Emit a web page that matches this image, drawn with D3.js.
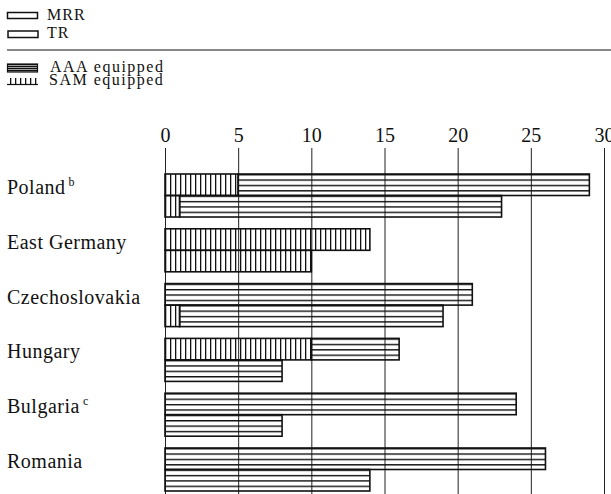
<!DOCTYPE html>
<html>
<head>
<meta charset="utf-8">
<script src="https://cdn.jsdelivr.net/npm/d3@7"></script>
<style>
  body { margin: 0; background: #fff; }
  text { font-family: "Liberation Serif", "DejaVu Serif", serif; fill: #111; }
</style>
</head>
<body>
<div id="container"></div>
<script>
let w = 611;
let h = 494;

// data
let countries = ["Poland", "East Germany", "Czechoslovakia", "Hungary", "Bulgaria", "Romania"];
let notes = ["b", "", "", "", "c", ""];
let series = ["MRR", "TR"];
let mrrTotal = [29, 14, 21, 16, 24, 26];
let mrrSam = [5, 14, 0, 10, 0, 0];
let trTotal = [23, 10, 19, 8, 8, 14];
let trSam = [1, 10, 1, 0, 0, 0];
let tickValues = [0, 5, 10, 15, 20, 25, 30];

let viz = d3.select("#container")
  .append("svg")
    .attr("width", w)
    .attr("height", h)
    .style("display", "block")
    .style("background-color", "#fff");

let defs = viz.append("defs");

// AAA equipped: horizontal lines
let aaa = defs.append("pattern")
    .attr("id", "aaa")
    .attr("patternUnits", "objectBoundingBox")
    .attr("width", 1)
    .attr("height", 0.25);
aaa.append("rect")
    .attr("x", 0).attr("y", 0)
    .attr("width", 1000).attr("height", 1.4)
    .attr("fill", "#111");

// SAM equipped: vertical lines
let sam = defs.append("pattern")
    .attr("id", "sam")
    .attr("patternUnits", "userSpaceOnUse")
    .attr("width", 5)
    .attr("height", 10);
sam.append("rect")
    .attr("x", 0).attr("y", 0)
    .attr("width", 1.3).attr("height", 10)
    .attr("fill", "#111");

let x = d3.scaleLinear().domain([0, 30]).range([165, 604]);
let y = d3.scaleBand().domain(countries).range([174, 491]).paddingInner(0.215).paddingOuter(0);
let ySub = d3.scaleBand().domain(series).range([0, y.bandwidth()]);

// gridlines
let grid = viz.append("g")
    .attr("transform", "translate(0,148)")
    .call(d3.axisBottom(x).tickValues(tickValues).tickSize(h - 148).tickFormat(""));
grid.select(".domain").remove();
grid.selectAll("line").attr("stroke", "#222").attr("stroke-width", 1);

// tick labels
let axis = viz.append("g")
    .attr("transform", "translate(0,148)")
    .call(d3.axisTop(x).tickValues(tickValues).tickSize(0).tickPadding(6));
axis.select(".domain").remove();
axis.selectAll("text")
    .style("font-family", "'Liberation Serif', serif")
    .style("font-size", "20px")
    .attr("fill", "#111");

// bar segments
let segs = [];
countries.forEach(function(c, i) {
  let totals = [mrrTotal[i], trTotal[i]];
  let sams = [mrrSam[i], trSam[i]];
  series.forEach(function(s, j) {
    if (sams[j] > 0) segs.push({country: c, series: s, from: 0, to: sams[j], kind: "sam"});
    if (totals[j] > sams[j]) segs.push({country: c, series: s, from: sams[j], to: totals[j], kind: "aaa"});
  });
});

viz.append("g")
  .selectAll("rect")
  .data(segs)
  .join("rect")
    .attr("x", d => x(d.from))
    .attr("y", d => y(d.country) + ySub(d.series))
    .attr("width", d => x(d.to) - x(d.from))
    .attr("height", ySub.bandwidth())
    .attr("fill", d => "url(#" + d.kind + ")")
    .attr("stroke", "#111")
    .attr("stroke-width", 1.6);

// country labels
let labels = viz.append("g")
  .selectAll("text")
  .data(countries)
  .join("text")
    .attr("x", 7)
    .attr("y", d => y(d) + 20)
    .style("font-size", "20px")
    .style("letter-spacing", "0.5px")
    .text(d => d);
labels.append("tspan")
    .attr("dx", 3)
    .attr("dy", -8)
    .style("font-size", "12px")
    .text((d, i) => notes[i]);

// legend
viz.append("rect")
    .attr("x", 7.5).attr("y", 12.5).attr("width", 30).attr("height", 6)
    .attr("fill", "none").attr("stroke", "#111").attr("stroke-width", 1.5);
viz.append("rect")
    .attr("x", 8).attr("y", 31).attr("width", 30).attr("height", 6.5)
    .attr("fill", "none").attr("stroke", "#111").attr("stroke-width", 1.5);
viz.append("text")
    .attr("x", 47).attr("y", 20)
    .style("font-size", "16px").style("letter-spacing", "1px")
    .text("MRR");
viz.append("text")
    .attr("x", 47).attr("y", 38)
    .style("font-size", "16px").style("letter-spacing", "1px")
    .text("TR");

viz.append("line")
    .attr("x1", 7).attr("x2", 611)
    .attr("y1", 50).attr("y2", 50)
    .attr("stroke", "#111").attr("stroke-width", 1.2);

viz.append("rect")
    .attr("x", 7.5).attr("y", 64).attr("width", 30).attr("height", 8)
    .attr("fill", "url(#aaa)").attr("stroke", "#111").attr("stroke-width", 1.2);
viz.append("rect")
    .attr("x", 7.5).attr("y", 78).attr("width", 30).attr("height", 6.5)
    .attr("fill", "url(#sam)").attr("stroke", "none");
viz.append("line")
    .attr("x1", 7).attr("x2", 38).attr("y1", 84.5).attr("y2", 84.5)
    .attr("stroke", "#111").attr("stroke-width", 1.2);
viz.append("text")
    .attr("x", 50).attr("y", 72)
    .style("font-size", "16px").style("letter-spacing", "1.5px")
    .text("AAA equipped");
viz.append("text")
    .attr("x", 49).attr("y", 85)
    .style("font-size", "16px").style("letter-spacing", "1.5px")
    .text("SAM equipped");
</script>
</body>
</html>
